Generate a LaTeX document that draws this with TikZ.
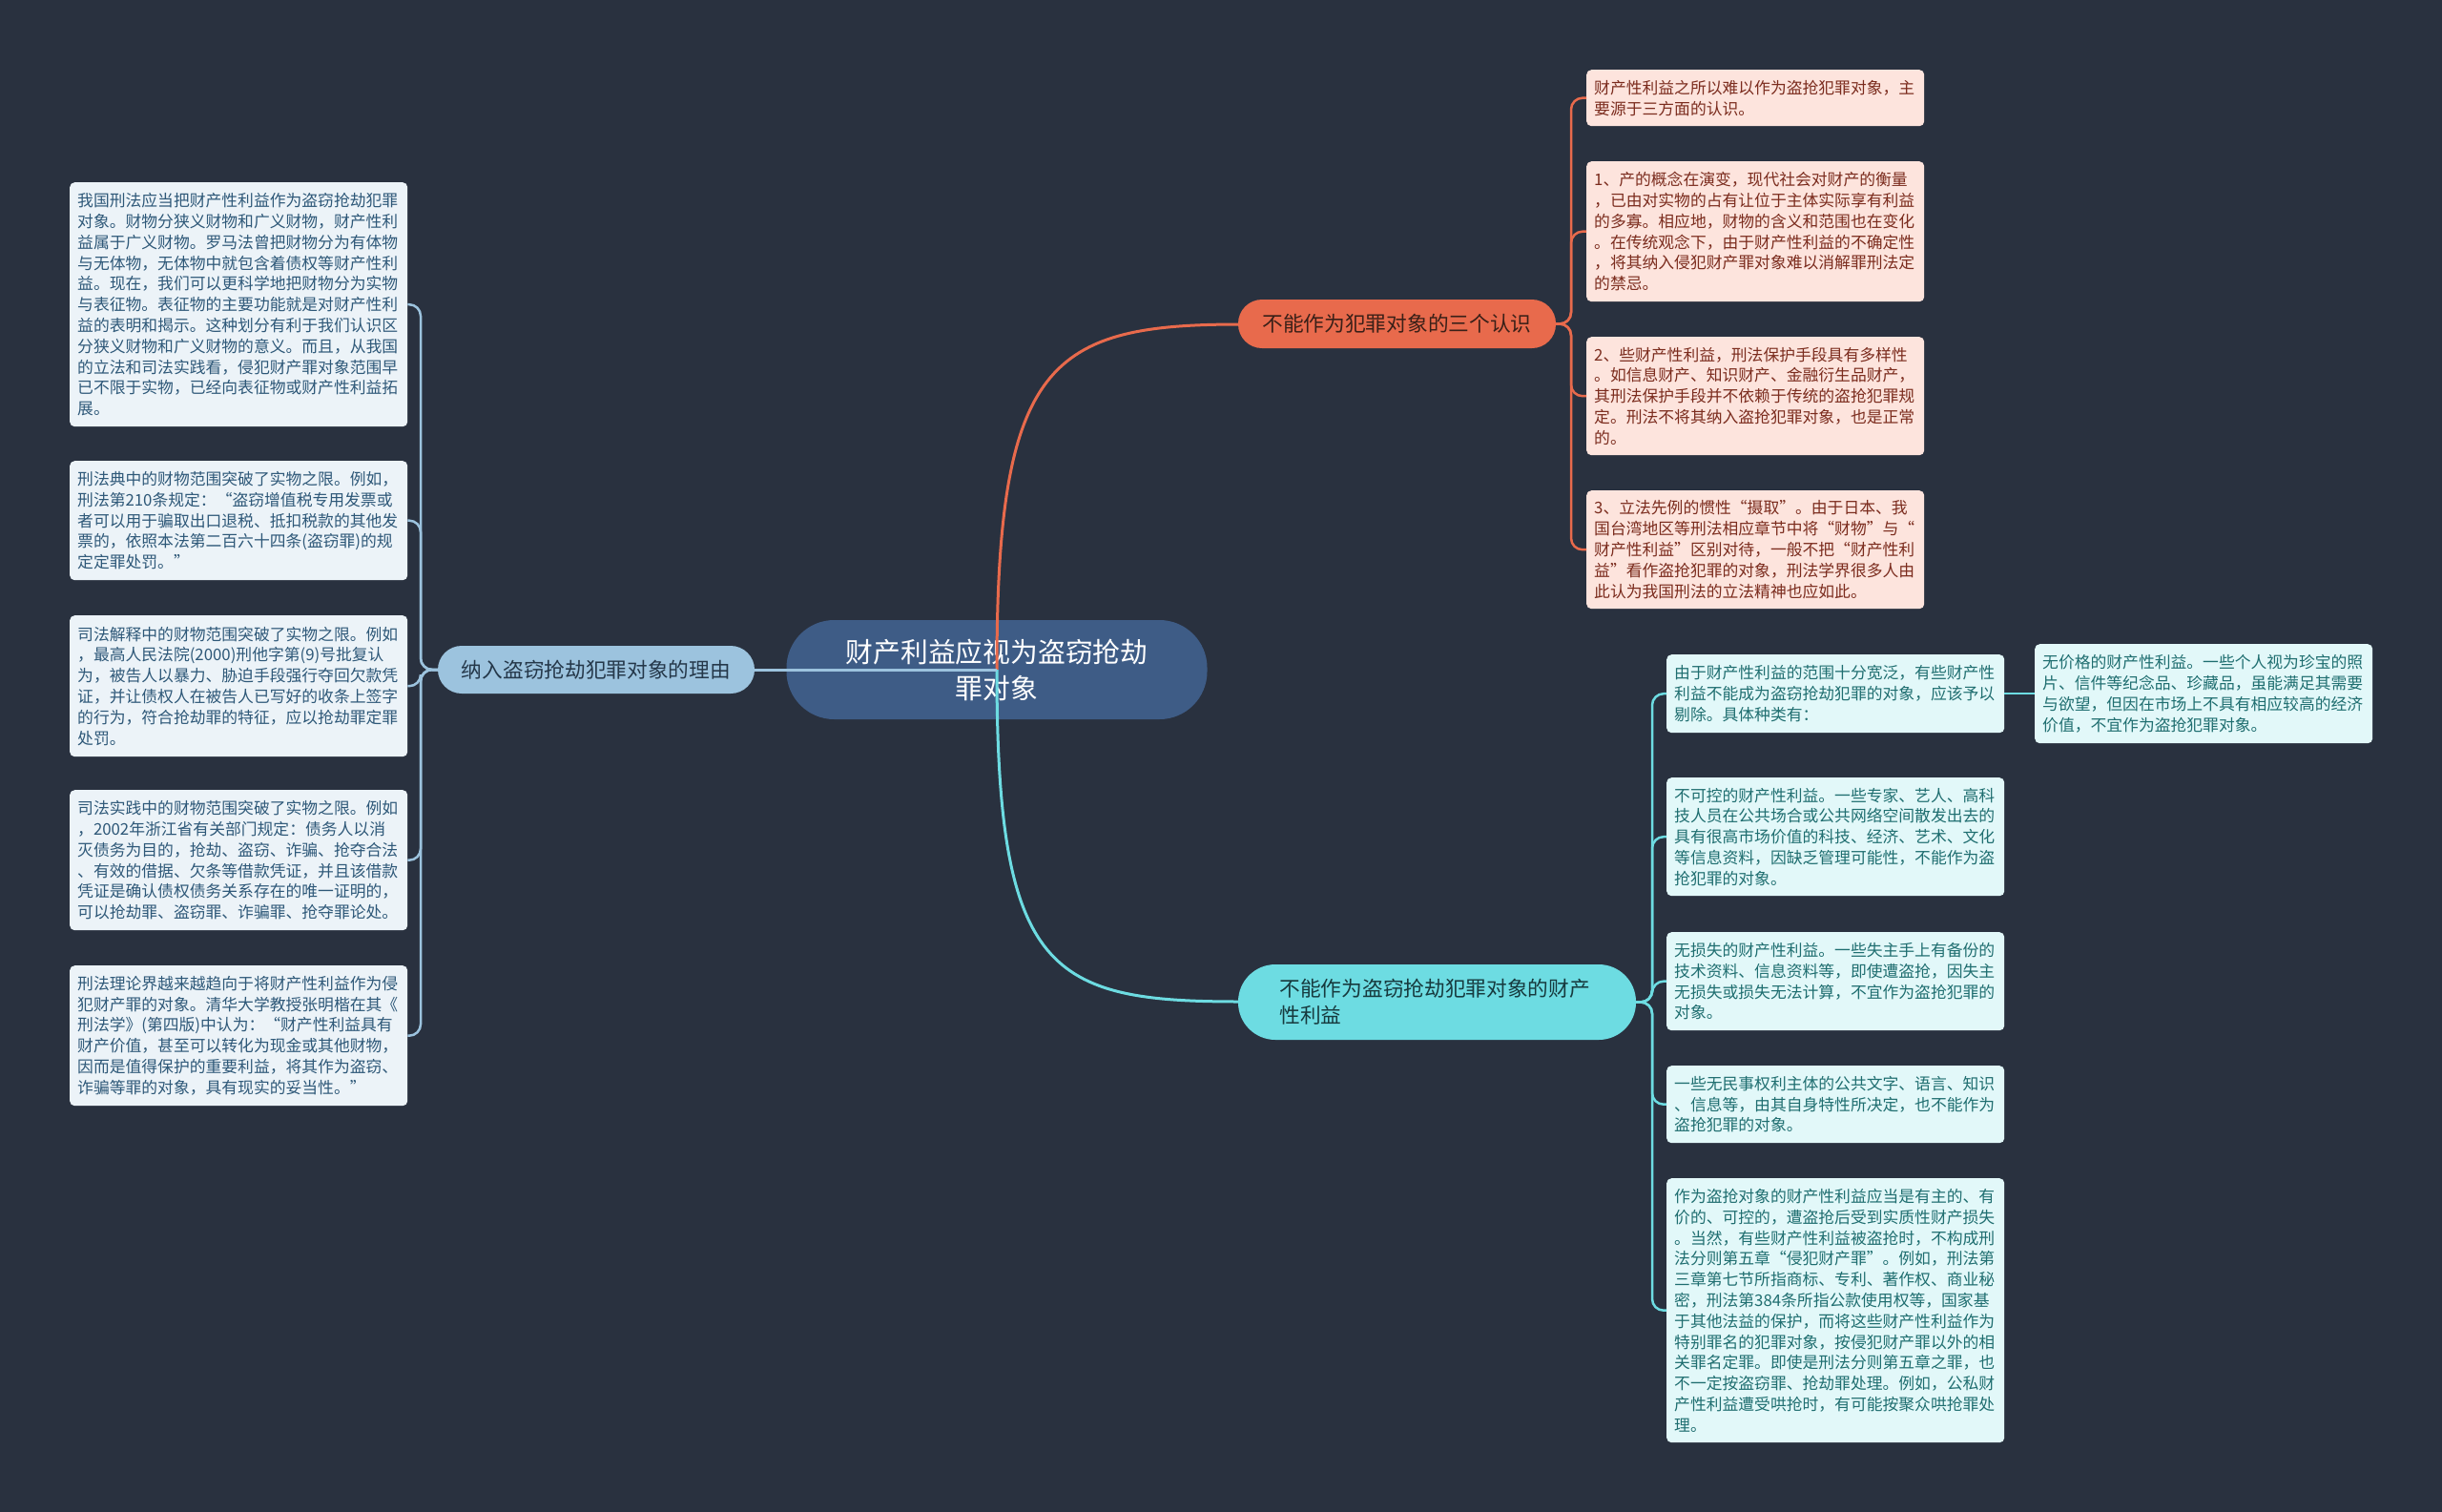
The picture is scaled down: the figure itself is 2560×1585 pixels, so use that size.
\documentclass[tikz,border=0pt]{standalone}
\usepackage{fontspec}
\newfontfamily\cjk{Noto Sans CJK SC}
\definecolor{bg}{HTML}{29313F}
\definecolor{cfillc}{HTML}{3E5C86}
\definecolor{lnfill}{HTML}{9CC3DE}
\definecolor{lntext}{HTML}{25384A}
\definecolor{lfill}{HTML}{ECF3F8}
\definecolor{ltext}{HTML}{2E5878}
\definecolor{onfill}{HTML}{E86A4C}
\definecolor{ontext}{HTML}{3A2018}
\definecolor{rfill}{HTML}{FDE4DD}
\definecolor{rtext}{HTML}{7B2C1E}
\definecolor{cnfill}{HTML}{6DDCE2}
\definecolor{cntext}{HTML}{173A3E}
\definecolor{cfill}{HTML}{E2F8F9}
\definecolor{ctext}{HTML}{1F6E70}
\begin{document}
\begin{tikzpicture}[x=1pt,y=-1pt,
  box/.style={rounded corners=5pt, text width=338pt, inner xsep=8pt, inner ysep=4pt, align=left, anchor=north west, font=\cjk\fontsize{16.8}{21.8}\selectfont},
  lbox/.style={box, fill=lfill, text=ltext},
  rbox/.style={box, fill=rfill, text=rtext},
  cbox/.style={box, fill=cfill, text=ctext},
  branch/.style={inner sep=0pt, font=\cjk\fontsize{21.7}{28}\selectfont},
  lline/.style={draw=lnfill, line width=2.5pt},
  oline/.style={draw=onfill, line width=2.5pt},
  cline/.style={draw=cnfill, line width=2.5pt},
  spine/.style={rounded corners=12pt}
]
\useasboundingbox (0,0) rectangle (2560,1585);
\fill[bg] (0,0) rectangle (2560,1585);

% central node
\node[fill=cfillc, rounded corners=50pt, minimum width=441pt, minimum height=104pt, inner sep=0pt, align=center, text=white, font=\cjk\fontsize{28.8}{38}\selectfont] (c) at (1045,702) {财产利益应视为盗窃抢劫\\罪对象};

% main connectors
\draw[oline, line width=3pt] (c.center) .. controls (1045,380) and (1100,340) .. (1300,340) coordinate (oend);
\draw[cline, line width=3pt] (c.center) .. controls (1045,1020) and (1100,1050) .. (1300,1050) coordinate (cend);
\draw[lline, line width=3pt] (c.center) -- (791,702) coordinate (lend);

% branch nodes
\node[branch, fill=lnfill, text=lntext, rounded corners=25pt, minimum width=332pt, minimum height=50pt] (ln) at (625,702) {纳入盗窃抢劫犯罪对象的理由};
\node[branch, fill=onfill, text=ontext, rounded corners=25pt, minimum width=333pt, minimum height=51pt] (on) at (1464.5,339.5) {不能作为犯罪对象的三个认识};
\node[branch, fill=cnfill, text=cntext, rounded corners=39pt, minimum width=417pt, minimum height=79pt, text width=330pt, align=left] (cn) at (1506.5,1050.5) {不能作为盗窃抢劫犯罪对象的财产\\性利益};

% left boxes
\node[lbox, minimum height=256pt] (l1) at (73,191) {我国刑法应当把财产性利益作为盗窃抢劫犯罪\\对象。财物分狭义财物和广义财物，财产性利\\益属于广义财物。罗马法曾把财物分为有体物\\与无体物，无体物中就包含着债权等财产性利\\益。现在，我们可以更科学地把财物分为实物\\与表征物。表征物的主要功能就是对财产性利\\益的表明和揭示。这种划分有利于我们认识区\\分狭义财物和广义财物的意义。而且，从我国\\的立法和司法实践看，侵犯财产罪对象范围早\\已不限于实物，已经向表征物或财产性利益拓\\展。};
\node[lbox, minimum height=125pt] (l2) at (73,483) {刑法典中的财物范围突破了实物之限。例如，\\刑法第210条规定：“盗窃增值税专用发票或\\者可以用于骗取出口退税、抵扣税款的其他发\\票的，依照本法第二百六十四条(盗窃罪)的规\\定定罪处罚。”};
\node[lbox, minimum height=148pt] (l3) at (73,645) {司法解释中的财物范围突破了实物之限。例如\\，最高人民法院(2000)刑他字第(9)号批复认\\为，被告人以暴力、胁迫手段强行夺回欠款凭\\证，并让债权人在被告人已写好的收条上签字\\的行为，符合抢劫罪的特征，应以抢劫罪定罪\\处罚。};
\node[lbox, minimum height=147pt] (l4) at (73,828) {司法实践中的财物范围突破了实物之限。例如\\，2002年浙江省有关部门规定：债务人以消\\灭债务为目的，抢劫、盗窃、诈骗、抢夺合法\\、有效的借据、欠条等借款凭证，并且该借款\\凭证是确认债权债务关系存在的唯一证明的，\\可以抢劫罪、盗窃罪、诈骗罪、抢夺罪论处。};
\node[lbox, minimum height=147pt] (l5) at (73,1012) {刑法理论界越来越趋向于将财产性利益作为侵\\犯财产罪的对象。清华大学教授张明楷在其《\\刑法学》(第四版)中认为：“财产性利益具有\\财产价值，甚至可以转化为现金或其他财物，\\因而是值得保护的重要利益，将其作为盗窃、\\诈骗等罪的对象，具有现实的妥当性。”};

% orange boxes
\node[rbox, minimum height=59pt] (r1) at (1663,73) {财产性利益之所以难以作为盗抢犯罪对象，主\\要源于三方面的认识。};
\node[rbox, minimum height=147pt] (r2) at (1663,169) {1、产的概念在演变，现代社会对财产的衡量\\，已由对实物的占有让位于主体实际享有利益\\的多寡。相应地，财物的含义和范围也在变化\\。在传统观念下，由于财产性利益的不确定性\\，将其纳入侵犯财产罪对象难以消解罪刑法定\\的禁忌。};
\node[rbox, minimum height=124pt] (r3) at (1663,353) {2、些财产性利益，刑法保护手段具有多样性\\。如信息财产、知识财产、金融衍生品财产，\\其刑法保护手段并不依赖于传统的盗抢犯罪规\\定。刑法不将其纳入盗抢犯罪对象，也是正常\\的。};
\node[rbox, minimum height=124pt] (r4) at (1663,514) {3、立法先例的惯性“摄取”。由于日本、我\\国台湾地区等刑法相应章节中将“财物”与“\\财产性利益”区别对待，一般不把“财产性利\\益”看作盗抢犯罪的对象，刑法学界很多人由\\此认为我国刑法的立法精神也应如此。};

% cyan boxes
\node[cbox, minimum height=82pt] (c1) at (1747,686) {由于财产性利益的范围十分宽泛，有些财产性\\利益不能成为盗窃抢劫犯罪的对象，应该予以\\剔除。具体种类有：};
\node[cbox, minimum height=104pt] (c1a) at (2133,675) {无价格的财产性利益。一些个人视为珍宝的照\\片、信件等纪念品、珍藏品，虽能满足其需要\\与欲望，但因在市场上不具有相应较高的经济\\价值，不宜作为盗抢犯罪对象。};
\node[cbox, minimum height=124pt] (c2) at (1747,815) {不可控的财产性利益。一些专家、艺人、高科\\技人员在公共场合或公共网络空间散发出去的\\具有很高市场价值的科技、经济、艺术、文化\\等信息资料，因缺乏管理可能性，不能作为盗\\抢犯罪的对象。};
\node[cbox, minimum height=103pt] (c3) at (1747,977) {无损失的财产性利益。一些失主手上有备份的\\技术资料、信息资料等，即使遭盗抢，因失主\\无损失或损失无法计算，不宜作为盗抢犯罪的\\对象。};
\node[cbox, minimum height=81pt] (c4) at (1747,1117) {一些无民事权利主体的公共文字、语言、知识\\、信息等，由其自身特性所决定，也不能作为\\盗抢犯罪的对象。};
\node[cbox, minimum height=277pt] (c5) at (1747,1235) {作为盗抢对象的财产性利益应当是有主的、有\\价的、可控的，遭盗抢后受到实质性财产损失\\。当然，有些财产性利益被盗抢时，不构成刑\\法分则第五章“侵犯财产罪”。例如，刑法第\\三章第七节所指商标、专利、著作权、商业秘\\密，刑法第384条所指公款使用权等，国家基\\于其他法益的保护，而将这些财产性利益作为\\特别罪名的犯罪对象，按侵犯财产罪以外的相\\关罪名定罪。即使是刑法分则第五章之罪，也\\不一定按盗窃罪、抢劫罪处理。例如，公私财\\产性利益遭受哄抢时，有可能按聚众哄抢罪处\\理。};

% spines
\coordinate (ls) at (441,702);
\coordinate (os) at (1647,339.5);
\coordinate (cs) at (1732,1050.5);
\foreach \n in {l1,l2,l3,l4,l5} \draw[lline, spine] (ln.west) -- (ls) |- (\n.east);
\foreach \n in {r1,r2,r3,r4} \draw[oline, spine] (on.east) -- (os) |- (\n.west);
\foreach \n in {c1,c2,c3,c4,c5} \draw[cline, spine] (cn.east) -- (cs) |- (\n.west);
\draw[cline] (c1.east) -- (c1a.west);
\end{tikzpicture}
\end{document}
